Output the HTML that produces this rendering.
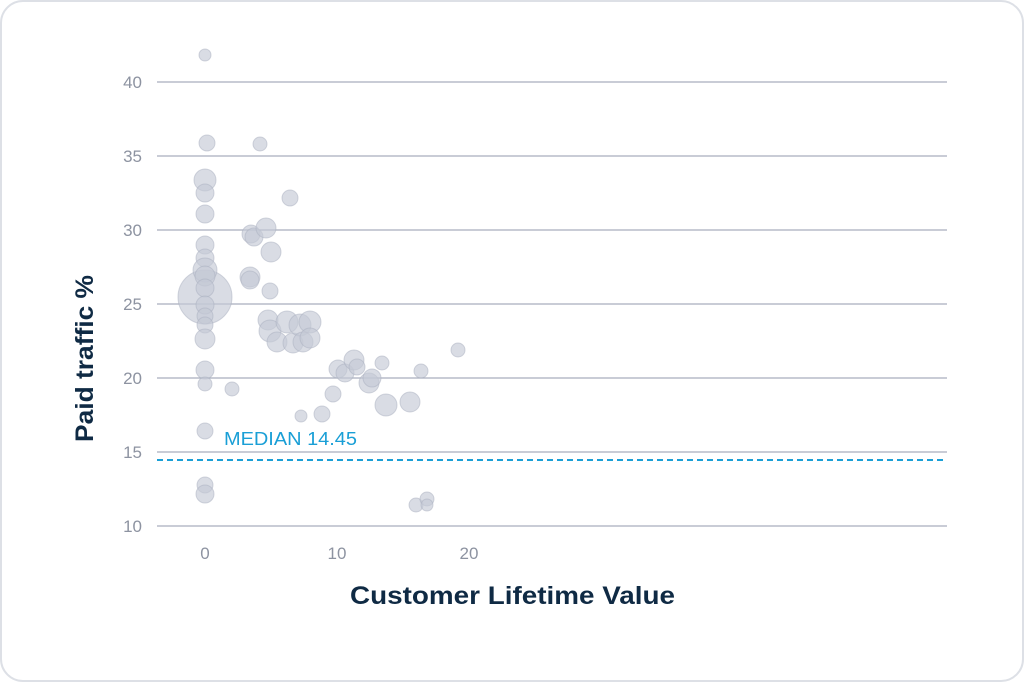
<!DOCTYPE html>
<html><head><meta charset="utf-8"><style>
html,body{margin:0;padding:0;background:#fff;width:1024px;height:682px;overflow:hidden}
</style></head><body>
<svg width="1024" height="682" viewBox="0 0 1024 682" xmlns="http://www.w3.org/2000/svg" font-family="Liberation Sans, sans-serif">
<rect x="1" y="1" width="1022" height="680" rx="22" fill="#fff" stroke="#dde0e6" stroke-width="2"/>
<g stroke="#a9aebd" stroke-width="1.3">
<line x1="157" x2="947" y1="82" y2="82"/><line x1="157" x2="947" y1="156" y2="156"/>
<line x1="157" x2="947" y1="230" y2="230"/><line x1="157" x2="947" y1="304" y2="304"/>
<line x1="157" x2="947" y1="378" y2="378"/><line x1="157" x2="947" y1="452" y2="452"/>
<line x1="157" x2="947" y1="526" y2="526"/>
</g>
<g fill="#8d93a1" font-size="17" text-anchor="end">
<text x="142" y="88">40</text><text x="142" y="162">35</text><text x="142" y="236">30</text>
<text x="142" y="310">25</text><text x="142" y="384">20</text><text x="142" y="458">15</text><text x="142" y="532">10</text>
</g>
<g fill="#8d93a1" font-size="17" text-anchor="middle">
<text x="205" y="559">0</text><text x="337" y="559">10</text><text x="469" y="559">20</text>
</g>
<line x1="157" x2="947" y1="460" y2="460" stroke="#1a9fd6" stroke-width="2" stroke-dasharray="6,4"/>
<text x="224" y="445" fill="#1a9fd6" font-size="18" textLength="133" lengthAdjust="spacingAndGlyphs">MEDIAN 14.45</text>
<text x="350" y="604" fill="#0f2a44" font-size="25" font-weight="bold" textLength="325" lengthAdjust="spacingAndGlyphs">Customer Lifetime Value</text>
<text transform="translate(93,442) rotate(-90)" fill="#0f2a44" font-size="25" font-weight="bold" textLength="167" lengthAdjust="spacingAndGlyphs">Paid traffic %</text>
<g fill="rgba(196,201,214,0.65)" stroke="rgba(170,176,192,0.5)" stroke-width="1">
<circle cx="205" cy="297" r="27"/>
<circle cx="205" cy="55" r="6"/><circle cx="207" cy="143" r="8"/><circle cx="205" cy="180" r="11"/><circle cx="205" cy="193" r="9"/><circle cx="205" cy="214" r="9"/><circle cx="205" cy="245" r="9"/><circle cx="205" cy="258" r="9"/><circle cx="205" cy="270" r="12"/><circle cx="205" cy="276" r="10"/><circle cx="205" cy="288" r="9"/><circle cx="205" cy="305" r="9"/><circle cx="205" cy="316" r="8"/><circle cx="205" cy="325" r="8"/><circle cx="205" cy="339" r="10"/><circle cx="205" cy="370" r="9"/><circle cx="205" cy="384" r="7"/><circle cx="205" cy="431" r="8"/><circle cx="205" cy="485" r="8"/><circle cx="205" cy="494" r="9"/><circle cx="260" cy="144" r="7"/><circle cx="290" cy="198" r="8"/><circle cx="251" cy="234" r="9"/><circle cx="254" cy="237" r="9"/><circle cx="266" cy="228" r="10"/><circle cx="271" cy="252" r="10"/><circle cx="250" cy="277" r="10"/><circle cx="250" cy="280" r="9"/><circle cx="270" cy="291" r="8"/><circle cx="268" cy="320" r="10"/><circle cx="270" cy="331" r="11"/><circle cx="277" cy="342" r="10"/><circle cx="287" cy="322" r="11"/><circle cx="293" cy="343" r="10"/><circle cx="300" cy="325" r="11"/><circle cx="310" cy="322" r="11"/><circle cx="303" cy="342" r="10"/><circle cx="310" cy="338" r="10"/><circle cx="232" cy="389" r="7"/><circle cx="301" cy="416" r="6"/><circle cx="322" cy="414" r="8"/><circle cx="333" cy="394" r="8"/><circle cx="338" cy="369" r="9"/><circle cx="345" cy="373" r="9"/><circle cx="354" cy="360" r="10"/><circle cx="357" cy="367" r="8"/><circle cx="369" cy="383" r="10"/><circle cx="372" cy="378" r="9"/><circle cx="382" cy="363" r="7"/><circle cx="386" cy="405" r="11"/><circle cx="410" cy="402" r="10"/><circle cx="421" cy="371" r="7"/><circle cx="458" cy="350" r="7"/><circle cx="416" cy="505" r="7"/><circle cx="427" cy="499" r="7"/><circle cx="427" cy="505" r="6"/>
</g>
</svg>
</body></html>
